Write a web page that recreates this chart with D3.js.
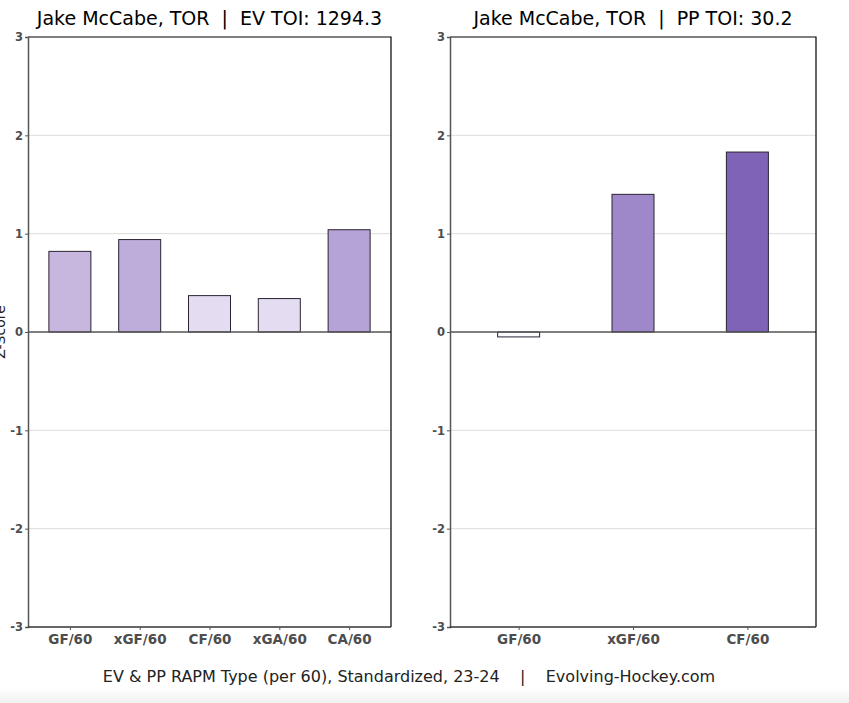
<!DOCTYPE html>
<html>
<head>
<meta charset="utf-8">
<script src="https://d3js.org/d3.v7.min.js"></script>
<style>
body{margin:0;background:#fff;}
text{font-family:"DejaVu Sans",sans-serif;white-space:pre;}
.tick text{font-weight:bold;fill:#4d4d4d;}
</style>
</head>
<body>
<div id="chart"></div>
<script>
// values
var evCats = ["GF/60","xGF/60","CF/60","xGA/60","CA/60"];
var evVals = [0.82, 0.94, 0.37, 0.34, 1.04];
var evCols = ["#c7b7df","#bcaddb","#e4ddf1","#e4ddf1","#b5a3d7"];
var ppCats = ["GF/60","xGF/60","CF/60"];
var ppVals = [-0.05, 1.40, 1.83];
var ppCols = ["#fbfafd","#9e88ca","#7f63b7"];
var yTicks = [-3,-2,-1,0,1,2,3];

var width = 849, height = 703;
var svg = d3.select("#chart").append("svg")
    .attr("width", width)
    .attr("height", height);

var grad = svg.append("defs").append("linearGradient")
    .attr("id","fade").attr("x1",0).attr("y1",0).attr("x2",0).attr("y2",1);
grad.append("stop").attr("offset","0%").attr("stop-color","#ffffff");
grad.append("stop").attr("offset","100%").attr("stop-color","#f0f0f0");
svg.append("rect").attr("x",0).attr("y",688).attr("width",width).attr("height",15)
    .attr("fill","url(#fade)");

var y = d3.scaleLinear().domain([-3,3]).range([627,37]);

function panel(cats, vals, cols, left, right, title){
    var x = d3.scalePoint().domain(cats).range([left,right]).padding(0.6);
    var g = svg.append("g");

    g.selectAll(".grid").data(yTicks.filter(d=>d!=0 && Math.abs(d)!=3)).enter().append("line")
        .attr("x1",left).attr("x2",right)
        .attr("y1",d=>y(d)).attr("y2",d=>y(d))
        .attr("stroke","#dcdcdc").attr("stroke-width",1);

    g.selectAll(".bar").data(vals).enter().append("rect")
        .attr("x",(d,i)=>x(cats[i])-21)
        .attr("width",42)
        .attr("y",d=>y(Math.max(d,0)))
        .attr("height",d=>Math.abs(y(d)-y(0)))
        .attr("fill",(d,i)=>cols[i])
        .attr("stroke","#2b2233").attr("stroke-width",1);

    g.append("line").attr("x1",left).attr("x2",right)
        .attr("y1",y(0)).attr("y2",y(0))
        .attr("stroke","#555").attr("stroke-width",1.5);

    // top and right border
    g.append("path")
        .attr("d","M"+left+","+y(3)+"H"+right+"V"+y(-3))
        .attr("fill","none").attr("stroke","#000").attr("stroke-width",1.2);

    var ya = g.append("g").attr("transform","translate("+left+",0)")
        .call(d3.axisLeft(y).tickValues(yTicks).tickSize(3).tickPadding(2).tickFormat(d=>String(d)));
    ya.select(".domain").attr("stroke","#555").attr("stroke-width",1.5);
    ya.selectAll(".tick line").attr("stroke","#555");
    ya.selectAll(".tick text").attr("font-size","11.5px");

    var xa = g.append("g").attr("transform","translate(0,"+y(-3)+")")
        .call(d3.axisBottom(x).tickSize(3).tickPadding(4));
    xa.select(".domain").attr("d","M"+left+",0H"+right).attr("stroke","#333").attr("stroke-width",1.5);
    xa.selectAll(".tick line").attr("stroke","#555");
    xa.selectAll(".tick text").attr("font-size","13.5px");

    g.append("text").attr("x",(left+right)/2).attr("y",25)
        .attr("text-anchor","middle").attr("font-size","19px").attr("fill","#000")
        .text(title);
}

panel(evCats, evVals, evCols, 28, 391, "Jake McCabe, TOR  |  EV TOI: 1294.3");
panel(ppCats, ppVals, ppCols, 450, 816, "Jake McCabe, TOR  |  PP TOI: 30.2");

svg.append("text").attr("transform","translate(5,332) rotate(-90)")
    .attr("text-anchor","middle").attr("font-size","14px").attr("fill","#222")
    .text("Z-Score");

svg.append("text").attr("x",409).attr("y",682)
    .attr("text-anchor","middle").attr("font-size","16px").attr("fill","#222")
    .text("EV & PP RAPM Type (per 60), Standardized, 23-24    |    Evolving-Hockey.com");
</script>
</body>
</html>
